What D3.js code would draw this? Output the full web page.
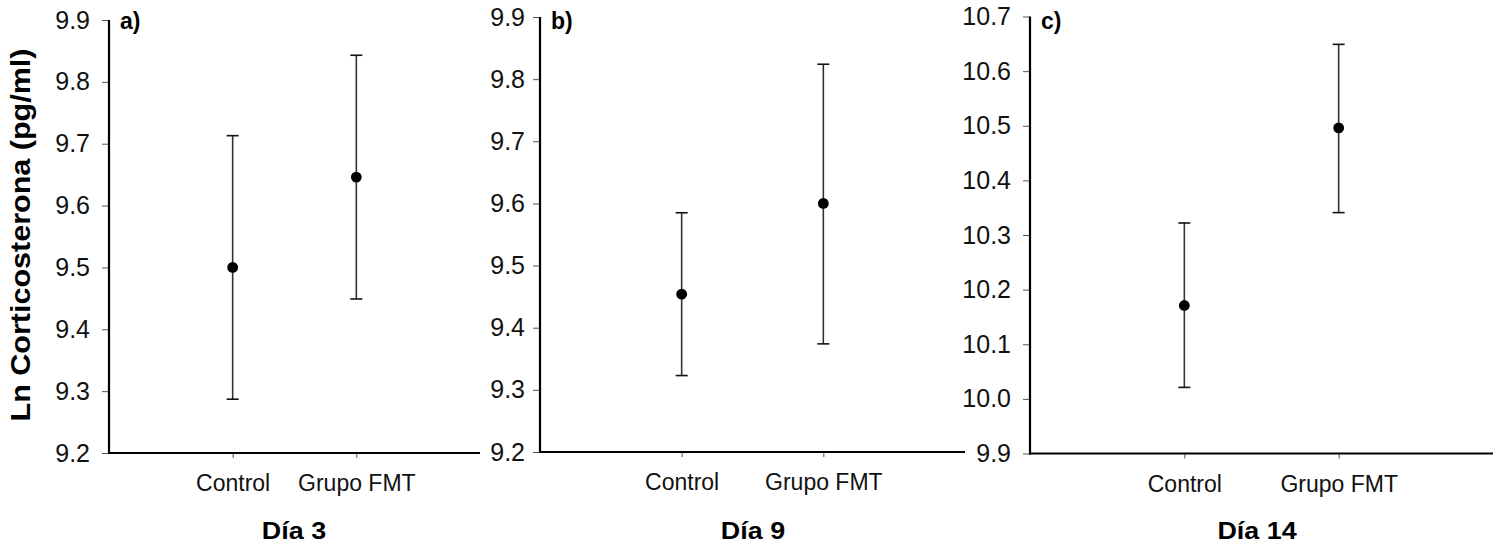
<!DOCTYPE html>
<html>
<head>
<meta charset="utf-8">
<script src="https://cdn.jsdelivr.net/npm/d3@7"></script>
<style>
  body { margin: 0; background: #fff; }
  svg { display: block; font-family: "Liberation Sans", Arial, sans-serif; }
  .yaxis path, .xaxis path { display: none; }
  .yaxis line, .xaxis line { stroke: #555; stroke-width: 1; }
  .yaxis text { font-size: 25px; fill: #111; }
  .xaxis text { font-size: 23px; fill: #111; }
</style>
</head>
<body>
<script>
// values (mean and error bar ends)
var groups = ["Control", "Grupo FMT"];
var panelLabels = ["a)", "b)", "c)"];
var dayLabels = ["Día 3", "Día 9", "Día 14"];
var means = [[9.500, 9.646], [9.454, 9.600], [10.171, 10.496]];
var lower = [[9.287, 9.449], [9.323, 9.374], [10.021, 10.341]];
var upper = [[9.713, 9.843], [9.585, 9.824], [10.322, 10.649]];
var yDomains = [[9.2, 9.9], [9.2, 9.9], [9.9, 10.7]];
var yTicks = [
    ["9.2", "9.3", "9.4", "9.5", "9.6", "9.7", "9.8", "9.9"],
    ["9.2", "9.3", "9.4", "9.5", "9.6", "9.7", "9.8", "9.9"],
    ["9.9", "10.0", "10.1", "10.2", "10.3", "10.4", "10.5", "10.6", "10.7"]
];
var yTitle = "Ln Corticosterona (pg/ml)";

var width = 1498,
    height = 544;

// frame of each panel in px
var frames = [
    {left: 109, right: 480, top: 20, bottom: 453, pad: 12, dayX: 294},
    {left: 540, right: 965, top: 17, bottom: 452, pad: 8, dayX: 753},
    {left: 1030, right: 1493, top: 16.5, bottom: 453.5, pad: 12, dayX: 1257}
];

var svg = d3.select("body")
    .append("svg")
    .attr("width", width)
    .attr("height", height);

// stretch bold text a bit wider, like the original figure
function stretch(sel, k){
    sel.each(function(){
        var len = this.getComputedTextLength();
        d3.select(this)
            .attr("textLength", len * k)
            .attr("lengthAdjust", "spacingAndGlyphs");
    });
}

frames.forEach(function(f, i){
    var g = svg.append("g");

    var y = d3.scaleLinear()
        .domain(yDomains[i])
        .range([f.bottom, f.top]);

    var x = d3.scalePoint()
        .domain(groups)
        .range([f.left, f.right])
        .padding(1);

    //y axis ticks and labels
    g.append("g")
        .attr("class", "yaxis")
        .attr("transform", "translate(" + f.left + ",0)")
        .call(d3.axisLeft(y)
            .tickValues(yTicks[i].map(Number))
            .tickFormat(function(d, j){ return yTicks[i][j]; })
            .tickSize(7)
            .tickPadding(f.pad));

    //x axis ticks and labels
    g.append("g")
        .attr("class", "xaxis")
        .attr("transform", "translate(0," + f.bottom + ")")
        .call(d3.axisBottom(x).tickSize(5).tickPadding(17));

    //axis lines
    g.append("line")
        .attr("x1", f.left).attr("x2", f.left)
        .attr("y1", f.top).attr("y2", f.bottom + 1)
        .attr("stroke", "#000")
        .attr("stroke-width", 2.2);
    g.append("line")
        .attr("x1", f.left - 1).attr("x2", f.right)
        .attr("y1", f.bottom).attr("y2", f.bottom)
        .attr("stroke", "#000")
        .attr("stroke-width", 2.2);

    var rows = groups.map(function(name, j){
        return {name: name, mean: means[i][j], lo: lower[i][j], hi: upper[i][j]};
    });

    //error bars
    g.selectAll(".bar")
        .data(rows)
        .enter()
        .append("line")
        .attr("x1", function(d){ return x(d.name); })
        .attr("x2", function(d){ return x(d.name); })
        .attr("y1", function(d){ return y(d.lo); })
        .attr("y2", function(d){ return y(d.hi); })
        .attr("stroke", "#333")
        .attr("stroke-width", 1.6);

    ["lo", "hi"].forEach(function(key){
        g.selectAll(".cap-" + key)
            .data(rows)
            .enter()
            .append("line")
            .attr("x1", function(d){ return x(d.name) - 6; })
            .attr("x2", function(d){ return x(d.name) + 6; })
            .attr("y1", function(d){ return y(d[key]); })
            .attr("y2", function(d){ return y(d[key]); })
            .attr("stroke", "#111")
            .attr("stroke-width", 1.6);
    });

    //means
    g.selectAll(".dot")
        .data(rows)
        .enter()
        .append("circle")
        .attr("cx", function(d){ return x(d.name); })
        .attr("cy", function(d){ return y(d.mean); })
        .attr("r", 5.4)
        .attr("fill", "#000");

    //panel letter
    g.append("text")
        .attr("x", f.left + 11)
        .attr("y", 29)
        .style("font-size", "23px")
        .style("font-weight", "bold")
        .text(panelLabels[i]);

    //day label below
    g.append("text")
        .attr("x", f.dayX)
        .attr("y", 539)
        .attr("text-anchor", "middle")
        .style("font-size", "24px")
        .style("font-weight", "bold")
        .text(dayLabels[i])
        .call(stretch, 1.12);
});

svg.append("text")
    .attr("transform", "translate(30,235) rotate(-90)")
    .attr("text-anchor", "middle")
    .style("font-size", "27px")
    .style("font-weight", "bold")
    .text(yTitle)
    .call(stretch, 1.13);
</script>
</body>
</html>
